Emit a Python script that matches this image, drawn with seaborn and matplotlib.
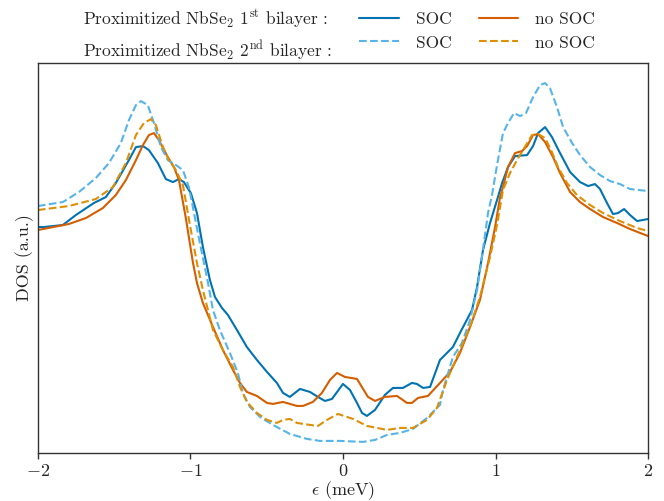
import matplotlib
matplotlib.use("Agg")
import matplotlib.pyplot as plt
from matplotlib.lines import Line2D
import seaborn as sns
import pandas as pd

# Density of states of the proximitized NbSe2 bilayers, with and without SOC
eps_soc_1 = [-2.0, -1.961, -1.836, -1.751, -1.633, -1.554, -1.489, -1.403, -1.357, -1.311,
             -1.272, -1.213, -1.161, -1.115, -1.075, -1.043, -0.997, -0.957, -0.918, -0.872,
             -0.839, -0.793, -0.754, -0.695, -0.630, -0.564, -0.498, -0.433, -0.393, -0.348,
             -0.282, -0.216, -0.164, -0.118, -0.072, 0.0, 0.046, 0.092, 0.125, 0.157,
             0.210, 0.275, 0.328, 0.393, 0.452, 0.485, 0.525, 0.571, 0.636, 0.721,
             0.767, 0.846, 0.879, 0.918, 0.964, 1.010, 1.043, 1.082, 1.128, 1.207,
             1.246, 1.279, 1.325, 1.370, 1.423, 1.489, 1.554, 1.607, 1.652, 1.685,
             1.731, 1.770, 1.803, 1.843, 1.882, 1.928, 2.0]
dos_soc_1 = [2.26, 2.26, 2.28, 2.38, 2.50, 2.56, 2.70, 2.93, 3.06, 3.07,
             3.03, 2.90, 2.74, 2.71, 2.74, 2.71, 2.60, 2.40, 2.06, 1.73,
             1.56, 1.45, 1.38, 1.23, 1.06, 0.93, 0.81, 0.70, 0.60, 0.56,
             0.64, 0.61, 0.56, 0.52, 0.54, 0.69, 0.63, 0.50, 0.40, 0.37,
             0.43, 0.58, 0.65, 0.65, 0.70, 0.69, 0.65, 0.66, 0.93, 1.06,
             1.20, 1.43, 1.66, 2.03, 2.30, 2.53, 2.70, 2.86, 2.97, 2.98,
             3.07, 3.20, 3.26, 3.16, 3.00, 2.81, 2.71, 2.67, 2.69, 2.64,
             2.50, 2.39, 2.40, 2.44, 2.38, 2.32, 2.34]

eps_nosoc_1 = [-2.0, -1.797, -1.685, -1.574, -1.489, -1.423, -1.357, -1.311, -1.272, -1.239,
               -1.207, -1.148, -1.108, -1.075, -1.030, -0.984, -0.957, -0.918, -0.852, -0.787,
               -0.721, -0.675, -0.630, -0.564, -0.498, -0.459, -0.393, -0.302, -0.262, -0.197,
               -0.138, -0.085, -0.039, 0.013, 0.092, 0.164, 0.210, 0.275, 0.354, 0.420,
               0.452, 0.492, 0.557, 0.636, 0.702, 0.767, 0.833, 0.898, 0.951, 0.997,
               1.030, 1.049, 1.082, 1.128, 1.174, 1.207, 1.246, 1.279, 1.325, 1.377,
               1.423, 1.489, 1.554, 1.620, 1.705, 1.797, 1.882, 2.0]
dos_nosoc_1 = [2.23, 2.29, 2.35, 2.45, 2.58, 2.73, 2.93, 3.08, 3.18, 3.20,
               3.13, 2.96, 2.86, 2.73, 2.35, 1.91, 1.70, 1.50, 1.26, 1.03,
               0.83, 0.70, 0.61, 0.57, 0.50, 0.49, 0.51, 0.47, 0.47, 0.51,
               0.60, 0.73, 0.80, 0.76, 0.74, 0.56, 0.52, 0.56, 0.57, 0.50,
               0.50, 0.55, 0.57, 0.70, 0.81, 1.00, 1.26, 1.53, 1.90, 2.26,
               2.56, 2.66, 2.86, 3.00, 3.02, 3.07, 3.18, 3.19, 3.11, 2.96,
               2.80, 2.61, 2.51, 2.44, 2.36, 2.30, 2.24, 2.17]

eps_soc_2 = [-2.0, -1.836, -1.731, -1.620, -1.534, -1.456, -1.403, -1.357, -1.325, -1.279,
             -1.239, -1.193, -1.148, -1.095, -1.049, -1.010, -0.984, -0.938, -0.892, -0.852,
             -0.807, -0.741, -0.689, -0.656, -0.610, -0.544, -0.459, -0.348, -0.236, -0.151,
             -0.020, 0.131, 0.210, 0.289, 0.374, 0.459, 0.551, 0.636, 0.656, 0.721,
             0.780, 0.833, 0.879, 0.911, 0.951, 0.977, 1.010, 1.049, 1.082, 1.121,
             1.161, 1.200, 1.246, 1.292, 1.325, 1.357, 1.403, 1.443, 1.502, 1.554,
             1.620, 1.685, 1.751, 1.816, 1.882, 2.0]
dos_soc_2 = [2.47, 2.51, 2.61, 2.75, 2.90, 3.10, 3.33, 3.48, 3.52, 3.48,
             3.30, 3.06, 2.93, 2.88, 2.83, 2.66, 2.46, 2.10, 1.76, 1.43,
             1.23, 1.00, 0.80, 0.60, 0.46, 0.36, 0.28, 0.19, 0.14, 0.12,
             0.12, 0.11, 0.13, 0.18, 0.20, 0.24, 0.35, 0.48, 0.63, 0.96,
             1.10, 1.33, 1.63, 1.96, 2.40, 2.58, 2.88, 3.20, 3.30, 3.40,
             3.37, 3.40, 3.56, 3.68, 3.70, 3.65, 3.46, 3.26, 3.10, 2.98,
             2.86, 2.78, 2.72, 2.69, 2.64, 2.62]

eps_nosoc_2 = [-2.0, -1.797, -1.620, -1.508, -1.423, -1.357, -1.305, -1.259, -1.226, -1.180,
               -1.141, -1.095, -1.049, -1.003, -0.957, -0.918, -0.852, -0.787, -0.721, -0.675,
               -0.630, -0.564, -0.498, -0.433, -0.393, -0.348, -0.302, -0.216, -0.164, -0.105,
               -0.033, 0.066, 0.157, 0.289, 0.374, 0.459, 0.551, 0.616, 0.682, 0.748,
               0.833, 0.898, 0.964, 1.010, 1.049, 1.095, 1.141, 1.180, 1.239, 1.279,
               1.325, 1.370, 1.410, 1.469, 1.534, 1.620, 1.705, 1.816, 1.928, 2.0]
dos_nosoc_2 = [2.43, 2.47, 2.54, 2.66, 2.90, 3.18, 3.30, 3.34, 3.28, 3.06,
               2.93, 2.83, 2.68, 2.28, 1.90, 1.63, 1.23, 1.03, 0.86, 0.66,
               0.51, 0.40, 0.33, 0.30, 0.33, 0.34, 0.30, 0.28, 0.27, 0.33,
               0.39, 0.34, 0.27, 0.23, 0.25, 0.25, 0.33, 0.45, 0.73, 0.96,
               1.26, 1.56, 1.96, 2.28, 2.63, 2.80, 2.93, 3.03, 3.18, 3.19,
               3.15, 3.01, 2.86, 2.70, 2.58, 2.48, 2.40, 2.32, 2.25, 2.22]

x_ticks = [-2, -1, 0, 1, 2]
row_labels = [r"Proximitized NbSe$_2$ 1$^{\mathrm{st}}$ bilayer :",
              r"Proximitized NbSe$_2$ 2$^{\mathrm{nd}}$ bilayer :"]
case_labels = ["SOC", "no SOC"]

sns.set_theme(style="white")
plt.rcParams["font.family"] = "serif"
plt.rcParams["font.serif"] = ["cmr10", "DejaVu Serif"]
plt.rcParams["mathtext.fontset"] = "cm"
plt.rcParams["axes.formatter.use_mathtext"] = True
plt.rcParams["axes.unicode_minus"] = True

pal = sns.color_palette("colorblind")
c_soc1, c_nosoc1, c_soc2, c_nosoc2 = pal[0], pal[3], pal[9], pal[1]

fig = plt.figure(figsize=(6.64, 5.01), dpi=100)
ax = fig.add_axes([0.057, 0.096, 0.919, 0.778])

series = [
    (eps_soc_1, dos_soc_1, c_soc1, "-"),
    (eps_nosoc_1, dos_nosoc_1, c_nosoc1, "-"),
    (eps_soc_2, dos_soc_2, c_soc2, "--"),
    (eps_nosoc_2, dos_nosoc_2, c_nosoc2, "--"),
]
for eps, dos, col, ls in series:
    df = pd.DataFrame({"eps": eps, "dos": dos})
    sns.lineplot(data=df, x="eps", y="dos", ax=ax, color=col, linestyle=ls,
                 linewidth=1.5, sort=False, estimator=None)

ax.set_xlim(-2, 2)
ax.set_ylim(0, 3.9)
ax.set_xticks(x_ticks)
ax.set_yticks([])
ax.set_xlabel(r"$\epsilon$ (meV)", fontsize=13, labelpad=0)
ax.set_ylabel("DOS (a.u.)", fontsize=13, labelpad=3)
ax.tick_params(axis="x", labelsize=13, length=4, width=1, direction="out",
               bottom=True, color="#333333")
for sp in ax.spines.values():
    sp.set_color("#333333")
    sp.set_linewidth(1.0)

blank = Line2D([], [], alpha=0)
handles = [blank, blank,
           Line2D([], [], color=c_soc1, lw=1.5), Line2D([], [], color=c_soc2, lw=1.5, ls="--"),
           Line2D([], [], color=c_nosoc1, lw=1.5), Line2D([], [], color=c_nosoc2, lw=1.5, ls="--")]
labels = [row_labels[0], row_labels[1],
          case_labels[0], case_labels[0], case_labels[1], case_labels[1]]
fig.legend(handles, labels, ncol=3, loc="upper left",
           bbox_to_anchor=(20 / 664, 1.0), borderaxespad=0,
           frameon=False, fontsize=12.5, handlelength=2.3, columnspacing=1.55,
           handletextpad=0.95, labelspacing=0.47)

fig.savefig("out.png", dpi=100)
